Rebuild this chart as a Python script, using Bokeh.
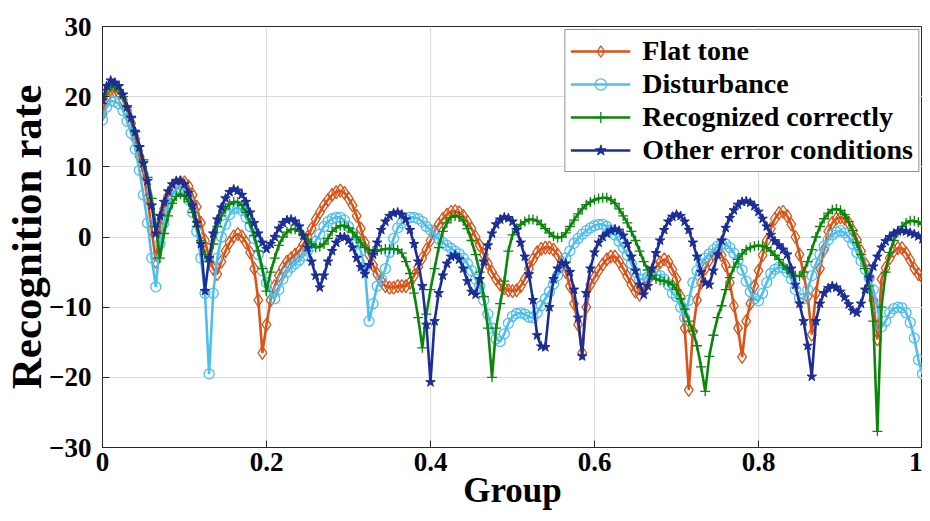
import numpy as np
from bokeh.plotting import figure
from bokeh.models import Range1d, FixedTicker, Legend, LegendItem
from bokeh.embed import file_html
from bokeh.resources import INLINE

# ---------------- data ----------------
group = np.linspace(0.0, 1.0, 201)

flat_tone = [
    17.5, 20.0, 21.0, 20.8, 20.5, 19.5, 18.0, 16.2, 14.0, 11.5,
    9.0, 5.5, 1.0, -3.5, 1.5, 4.0, 5.8, 7.0, 7.6, 7.8,
    7.8, 7.2, 6.0, 4.3, 2.0, -0.5, -3.0, -4.5, -5.3, -3.5,
    -2.0, -0.8, 0.1, 0.4, 0.1, -0.8, -2.2, -4.5, -9.0, -16.5,
    -12.5, -9.0, -7.0, -5.5, -4.4, -3.5, -3.0, -2.5, -2.0, -1.0,
    0.0, 1.2, 2.5, 3.5, 4.5, 5.3, 6.0, 6.4, 6.6, 6.3,
    5.5, 4.5, 3.0, 1.2, -0.8, -2.5, -4.0, -5.3, -6.3, -7.0,
    -7.2, -7.2, -7.0, -7.0, -7.0, -6.5, -5.5, -4.3, -3.0, -1.8,
    -0.5, 0.8, 1.8, 2.6, 3.2, 3.6, 3.7, 3.5, 3.0, 2.2,
    1.2, 0.0, -1.2, -2.5, -3.8, -5.0, -6.0, -6.8, -7.3, -7.6,
    -7.7, -7.6, -7.0, -6.0, -4.5, -3.2, -2.2, -1.7, -1.5, -1.5,
    -1.8, -2.5, -3.5, -5.0, -7.0, -9.5, -12.5, -16.5, -10.0, -6.8,
    -5.8, -4.8, -3.9, -3.2, -2.8, -2.8, -3.5, -4.5, -5.6, -6.8,
    -7.8, -8.2, -7.3, -6.2, -5.2, -4.3, -3.6, -3.2, -3.5, -4.6,
    -6.0, -8.5, -13.0, -21.8, -13.5, -9.0, -6.5, -4.5, -3.3, -2.5,
    -2.2, -2.6, -4.0, -6.5, -9.8, -13.0, -17.1, -12.0, -9.5, -7.0,
    -4.8, -2.6, -0.5, 1.2, 2.6, 3.4, 3.6, 3.0, 1.8, 0.0,
    -2.5, -5.2, -8.5, -13.9, -8.0, -4.5, -1.8, 0.8, 2.0, 2.6,
    2.8, 2.6, 2.0, 0.9, -0.4, -2.0, -3.8, -5.8, -9.0, -14.6,
    -6.0, -4.4, -3.0, -2.0, -1.6, -1.6, -2.3, -3.3, -4.5, -5.3,
    -5.8,
]

disturbance = [
    16.7, 18.5, 19.4, 19.3, 19.0, 18.0, 16.5, 14.8, 12.5, 9.5,
    6.0, 2.0, -3.0, -7.1, -1.0, 2.0, 4.5, 6.0, 6.8, 7.0,
    6.5, 5.3, 3.5, 0.8, -3.0, -8.0, -19.5, -8.0, -3.0, 0.0,
    1.8, 3.2, 4.0, 4.2, 3.8, 2.8, 1.5, -0.2, -2.5, -4.8,
    -6.5, -8.0, -8.8, -7.5, -6.0, -5.0, -4.3, -3.8, -3.3, -2.7,
    -2.0, -1.3, -0.6, 0.4, 1.5, 2.2, 2.6, 2.8, 2.8, 2.4,
    1.5, 0.5, -0.8, -2.0, -4.5, -12.0, -9.5, -7.0, -6.0, -4.5,
    -2.2, -0.2, 1.3, 2.0, 2.5, 2.8, 2.8, 2.6, 2.2, 1.5,
    1.0, 0.4, -0.3, -0.8, -1.2, -1.6, -2.0, -2.4, -3.0, -3.8,
    -4.8, -6.0, -7.0, -9.0, -11.0, -13.0, -14.5, -14.9, -13.8, -12.3,
    -11.3, -10.9, -10.8, -11.0, -11.4, -11.5, -10.8, -9.8, -8.8, -7.8,
    -6.7, -5.5, -4.3, -3.0, -2.0, -0.9, -0.2, 0.4, 0.9, 1.3,
    1.6, 1.8, 1.8, 1.5, 1.0, 0.3, -0.6, -1.5, -2.6, -3.8,
    -5.0, -6.0, -6.0, -5.7, -5.4, -5.3, -5.5, -6.0, -6.8, -8.0,
    -8.5, -10.0, -11.5, -9.0, -6.5, -4.8, -3.8, -3.0, -2.4, -1.8,
    -1.3, -1.0, -1.0, -1.5, -2.3, -3.3, -4.7, -6.3, -7.8, -8.8,
    -9.1, -8.0, -6.5, -5.2, -4.6, -4.3, -4.4, -5.0, -6.0, -7.5,
    -8.7, -8.8, -7.5, -5.5, -3.8, -2.5, -1.3, -0.4, 0.3, 0.7,
    0.9, 0.6, 0.0, -1.0, -2.2, -3.4, -4.6, -5.8, -7.5, -10.0,
    -12.8, -12.0, -10.8, -10.2, -10.0, -10.1, -10.8, -12.2, -14.4, -17.5,
    -19.5,
]

recognized = [
    19.0, 21.0, 21.5, 21.3, 21.0, 20.0, 18.5, 17.0, 15.0, 13.0,
    11.0, 8.5, 5.5, 1.5, -3.0, 0.5, 3.0, 4.8, 5.8, 6.1,
    5.8, 5.0, 3.5, 1.5, -0.5, -2.5, -3.5, -1.0, 1.5, 3.0,
    4.0, 4.7, 5.0, 5.0, 4.5, 3.5, 2.0, 0.2, -2.0, -4.5,
    -7.7, -5.0, -3.0, -1.2, 0.0, 0.7, 1.1, 1.1, 0.8, 0.3,
    -0.3, -1.0, -1.5, -1.4, -1.0, -0.2, 0.8, 1.3, 1.6, 1.6,
    1.3, 0.7, 0.0, -0.8, -1.5, -1.8, -2.0, -2.0, -1.8, -1.7,
    -1.7, -1.7, -1.8, -2.3, -3.5, -5.2, -8.0, -11.5, -15.8, -11.0,
    -7.5, -4.5, -1.5, 0.8, 2.0, 2.8, 3.0, 2.9, 2.3, 1.2,
    -0.5, -2.5, -5.0, -8.5, -13.0, -20.0, -13.0, -9.5, -6.3, -2.0,
    0.3, 1.2, 1.8, 2.2, 2.5, 2.5, 2.3, 1.8, 1.2, 0.6,
    0.1, -0.1, 0.0, 0.6, 1.5, 2.4, 3.3, 4.0, 4.6, 5.0,
    5.3, 5.5, 5.6, 5.6, 5.3, 4.8, 4.0, 3.0, 2.0, 0.8,
    -0.5, -2.0, -3.5, -4.7, -5.5, -6.0, -6.2, -6.3, -6.4, -6.8,
    -7.5, -8.8, -10.3, -12.0, -13.4, -15.5, -18.5, -22.0, -17.0, -14.0,
    -11.5, -9.8, -7.5, -5.8, -4.3, -3.2, -2.4, -1.8, -1.5, -1.3,
    -1.2, -1.3, -1.5, -2.0, -2.6, -3.2, -4.0, -4.6, -5.2, -5.5,
    -5.6, -5.0, -3.5, -1.8, 0.0, 1.5, 2.6, 3.4, 3.9, 4.0,
    3.8, 3.2, 2.2, 0.9, -0.8, -2.5, -4.5, -7.0, -12.0, -27.7,
    -10.0, -5.0, -2.2, -0.5, 0.7, 1.5, 2.0, 2.3, 2.3, 2.1,
    1.8,
]

other_error = [
    19.5, 21.5, 22.3, 22.0, 21.5, 20.3, 18.5, 17.0, 15.0, 12.8,
    10.5, 8.0, 4.5, 0.5, 3.0, 5.0, 6.5, 7.5, 8.0, 8.0,
    7.5, 6.3, 4.5, 2.0, -1.0, -7.7, -3.0, 0.5, 2.5, 4.2,
    5.5, 6.4, 6.8, 6.6, 6.0, 5.0, 3.5, 2.0, 0.5, -0.8,
    -1.7, -1.0, 0.0, 1.2, 2.0, 2.4, 2.5, 2.2, 1.5, 0.2,
    -1.5, -3.5, -5.5, -7.2, -5.5, -3.5, -2.0, -0.8, 0.0, 0.0,
    -0.5, -1.5, -3.0, -4.3, -5.3, -4.0, -2.5, -0.8, 1.0, 2.2,
    3.0, 3.4, 3.5, 3.2, 2.5, 1.0, -1.0, -3.5, -7.0, -12.5,
    -20.7, -12.0, -8.0, -5.5, -3.8, -2.8, -2.6, -3.2, -4.5, -6.3,
    -7.8, -8.2, -6.0, -3.5, -1.2, 0.5, 1.8, 2.5, 2.8, 2.7,
    2.2, 1.0, -0.8, -2.8, -5.3, -9.0, -14.0, -15.6, -15.7, -10.0,
    -6.0, -4.5, -3.7, -3.8, -5.0, -7.5, -11.5, -17.0, -8.0, -4.5,
    -2.2, -0.8, 0.0, 0.5, 0.9, 1.1, 0.9, 0.2, -1.0, -2.8,
    -4.8, -6.8, -8.2, -7.0, -4.5, -2.3, -0.5, 1.0, 2.2, 2.9,
    3.2, 3.0, 2.2, 1.0, -0.8, -2.8, -5.0, -6.5, -6.8, -4.8,
    -2.5, -0.5, 1.3, 2.7, 3.8, 4.6, 5.0, 5.1, 4.9, 4.4,
    3.6, 2.6, 1.5, 0.3, -0.6, -1.2, -1.8, -2.5, -4.5, -6.8,
    -9.5, -12.0, -15.5, -19.9, -12.0, -9.5, -8.0, -7.3, -7.0, -7.2,
    -7.8, -8.6, -9.6, -10.5, -10.8, -9.5, -7.5, -5.8, -4.2, -2.8,
    -1.5, -0.6, 0.0, 0.5, 0.8, 0.9, 0.8, 0.6, 0.4, 0.1,
    -0.3,
]

series_names = ["Flat tone", "Disturbance", "Recognized correctly", "Other error conditions"]
x_ticks = [0, 0.2, 0.4, 0.6, 0.8, 1]
x_tick_labels = ["0", "0.2", "0.4", "0.6", "0.8", "1"]
y_ticks = [-30, -20, -10, 0, 10, 20, 30]

# ---------------- styling ----------------
FONT = "Liberation Serif"
AX = "#262626"
C_ORANGE = "#D95319"
C_LBLUE = "#4DBEEE"
C_GREEN = "#0A870A"
C_DBLUE = "#1C2E96"

p = figure(frame_width=820, frame_height=421, x_range=Range1d(0, 1), y_range=Range1d(-30, 30),
           output_backend="svg", toolbar_location=None,
           min_border_left=94, min_border_top=26, min_border_bottom=50, min_border_right=0)
p.background_fill_color = "white"
p.border_fill_color = "white"
p.outline_line_color = AX
p.outline_line_width = 1

p.xaxis.ticker = FixedTicker(ticks=x_ticks)
p.yaxis.ticker = FixedTicker(ticks=y_ticks)
p.xaxis.major_label_overrides = {t: l for t, l in zip(x_ticks, x_tick_labels)}
p.xaxis.axis_label = "Group"
p.yaxis.axis_label = "Recognition rate"

for ax in (p.xaxis[0], p.yaxis[0]):
    ax.major_label_text_font = FONT
    ax.major_label_text_font_style = "bold"
    ax.major_label_text_font_size = "27px"
    ax.major_label_text_color = "black"
    ax.axis_label_text_font = FONT
    ax.axis_label_text_font_style = "bold"
    ax.axis_label_text_color = "black"
    ax.major_tick_in = 7
    ax.major_tick_out = 0
    ax.minor_tick_line_color = None
    ax.axis_line_color = AX
    ax.major_tick_line_color = AX
p.xaxis.axis_label_text_font_size = "35px"
p.yaxis.axis_label_text_font_size = "43px"
p.xaxis.major_label_standoff = 5
p.xaxis.axis_label_standoff = -3
p.yaxis.major_label_standoff = 11
p.yaxis.axis_label_standoff = -4

p.xgrid.ticker = FixedTicker(ticks=x_ticks)
p.ygrid.ticker = FixedTicker(ticks=y_ticks)
p.grid.grid_line_color = "#dcdcdc"
p.grid.grid_line_width = 1

LW = 2.6
items = []
r1 = p.line(group, flat_tone, line_color=C_ORANGE, line_width=LW)
s1 = p.scatter(group, flat_tone, marker="diamond", size=13, fill_color=None,
               line_color=C_ORANGE, line_width=1.3)
items.append(LegendItem(label=series_names[0], renderers=[r1, s1]))

r2 = p.line(group, disturbance, line_color=C_LBLUE, line_width=LW)
s2 = p.scatter(group, disturbance, marker="circle", size=10, fill_color=None,
               line_color=C_LBLUE, line_width=1.3)
items.append(LegendItem(label=series_names[1], renderers=[r2, s2]))

r3 = p.line(group, recognized, line_color=C_GREEN, line_width=LW)
s3 = p.scatter(group, recognized, marker="cross", size=10, fill_color=None,
               line_color=C_GREEN, line_width=1.3)
items.append(LegendItem(label=series_names[2], renderers=[r3, s3]))

r4 = p.line(group, other_error, line_color=C_DBLUE, line_width=LW)
s4 = p.scatter(group, other_error, marker="star", size=10, fill_color=C_DBLUE,
               line_color=C_DBLUE, line_width=1)
items.append(LegendItem(label=series_names[3], renderers=[r4, s4]))

legend = Legend(items=items, location="top_right")
legend.label_text_font = FONT
legend.label_text_font_style = "bold"
legend.label_text_font_size = "28px"
legend.label_text_color = "black"
legend.glyph_width = 60
legend.glyph_height = 28
legend.label_height = 28
legend.label_standoff = 12
legend.spacing = 1
legend.padding = 5
legend.margin = 3
legend.border_line_color = AX
legend.border_line_width = 1
legend.background_fill_color = "white"
legend.background_fill_alpha = 1
p.add_layout(legend)

open("out.html", "w").write(file_html(p, INLINE))
